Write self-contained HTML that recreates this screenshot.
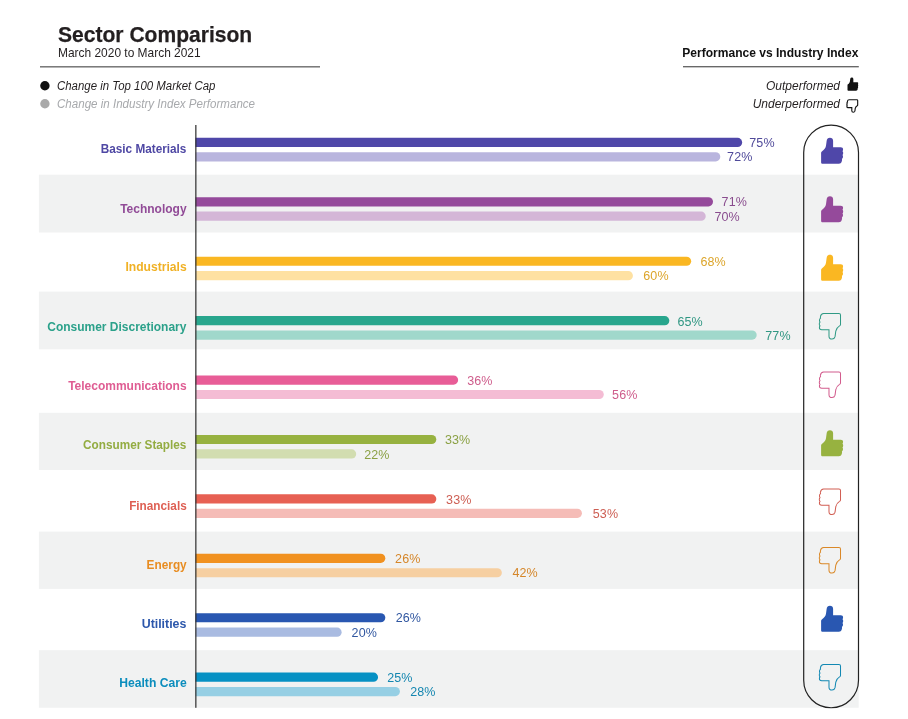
<!DOCTYPE html>
<html lang="en"><head><meta charset="utf-8"><title>Sector Comparison</title>
<style>
html,body{margin:0;padding:0;background:#fff;}
body{width:908px;height:719px;position:relative;overflow:hidden;font-family:"Liberation Sans",Arial,sans-serif;color:#231f20;}
.abs{position:absolute;white-space:nowrap;line-height:1;}
.lbl{position:absolute;right:721.4px;font-weight:bold;font-size:12px;white-space:nowrap;line-height:1;transform-origin:right center;}
.val{position:absolute;font-size:12.5px;letter-spacing:0.1px;white-space:nowrap;line-height:1;}
svg{position:absolute;left:0;top:0;overflow:visible;}
</style></head><body>

<svg width="908" height="719" viewBox="0 0 908 719">
<rect x="38.9" y="174.70" width="819.8" height="57.80" fill="#f1f2f2"/>
<rect x="38.9" y="291.60" width="819.8" height="57.70" fill="#f1f2f2"/>
<rect x="38.9" y="412.80" width="819.8" height="57.20" fill="#f1f2f2"/>
<rect x="38.9" y="531.60" width="819.8" height="57.30" fill="#f1f2f2"/>
<rect x="38.9" y="650.20" width="819.8" height="57.55" fill="#f1f2f2"/>
<rect x="40" y="66.3" width="280" height="1.1" fill="#444"/>
<rect x="683" y="66.2" width="175.8" height="1.1" fill="#444"/>
<circle cx="44.9" cy="85.75" r="4.7" fill="#111"/>
<circle cx="44.9" cy="103.75" r="4.7" fill="#a9a9a9"/>
<g transform="translate(847.5 77.4) scale(0.487 0.508)"><path d="M8.8 0C10.8 0 12 1.2 12 3L12 9.6L19.6 9.6C21.2 9.6 22 10.4 22 11.6C22 12.5 21.7 13.1 21.4 13.5C21.9 14 22.1 14.7 22.1 15.4C22.1 16.3 21.8 17 21.4 17.4C21.8 17.9 21.9 18.6 21.9 19.2C21.9 20.2 21.4 21 20.8 21.4C21 21.9 21 22.4 20.9 22.9C20.6 24.9 19.6 26.2 17.6 26.2L1.6 26.2C0.6 26.2 0 25.6 0 24.6L0 15C0 14.3 0.4 13.9 1 13.5C3.2 12.2 4.4 10.6 4.9 8.2C5.3 6 5.4 3.8 5.8 2.2C6.2 0.8 7.3 0 8.8 0Z" fill="#111"/></g>
<g transform="translate(846.8 99.7) scale(0.49 0.48)"><path d="M8.8 0C10.8 0 12 1.2 12 3L12 9.6L19.6 9.6C21.2 9.6 22 10.4 22 11.6C22 12.5 21.7 13.1 21.4 13.5C21.9 14 22.1 14.7 22.1 15.4C22.1 16.3 21.8 17 21.4 17.4C21.8 17.9 21.9 18.6 21.9 19.2C21.9 20.2 21.4 21 20.8 21.4C21 21.9 21 22.4 20.9 22.9C20.6 24.9 19.6 26.2 17.6 26.2L1.6 26.2C0.6 26.2 0 25.6 0 24.6L0 15C0 14.3 0.4 13.9 1 13.5C3.2 12.2 4.4 10.6 4.9 8.2C5.3 6 5.4 3.8 5.8 2.2C6.2 0.8 7.3 0 8.8 0Z" fill="none" stroke="#111" stroke-width="2.3" transform="rotate(180 11.1 13.1)"/></g>
<path d="M195.50 137.80H737.55A4.60 4.60 0 0 1 737.55 147.00H195.50Z" fill="#4f47a9"/>
<path d="M195.50 152.20H715.70A4.60 4.60 0 0 1 715.70 161.40H195.50Z" fill="#b9b5de"/>
<g transform="translate(821.1 137.65)"><path d="M8.8 0C10.8 0 12 1.2 12 3L12 9.6L19.6 9.6C21.2 9.6 22 10.4 22 11.6C22 12.5 21.7 13.1 21.4 13.5C21.9 14 22.1 14.7 22.1 15.4C22.1 16.3 21.8 17 21.4 17.4C21.8 17.9 21.9 18.6 21.9 19.2C21.9 20.2 21.4 21 20.8 21.4C21 21.9 21 22.4 20.9 22.9C20.6 24.9 19.6 26.2 17.6 26.2L1.6 26.2C0.6 26.2 0 25.6 0 24.6L0 15C0 14.3 0.4 13.9 1 13.5C3.2 12.2 4.4 10.6 4.9 8.2C5.3 6 5.4 3.8 5.8 2.2C6.2 0.8 7.3 0 8.8 0Z" fill="#4f47a9"/></g>
<path d="M195.50 197.22H708.42A4.60 4.60 0 0 1 708.42 206.42H195.50Z" fill="#954a9b"/>
<path d="M195.50 211.62H701.14A4.60 4.60 0 0 1 701.14 220.82H195.50Z" fill="#d4b6d7"/>
<g transform="translate(821.1 196.15)"><path d="M8.8 0C10.8 0 12 1.2 12 3L12 9.6L19.6 9.6C21.2 9.6 22 10.4 22 11.6C22 12.5 21.7 13.1 21.4 13.5C21.9 14 22.1 14.7 22.1 15.4C22.1 16.3 21.8 17 21.4 17.4C21.8 17.9 21.9 18.6 21.9 19.2C21.9 20.2 21.4 21 20.8 21.4C21 21.9 21 22.4 20.9 22.9C20.6 24.9 19.6 26.2 17.6 26.2L1.6 26.2C0.6 26.2 0 25.6 0 24.6L0 15C0 14.3 0.4 13.9 1 13.5C3.2 12.2 4.4 10.6 4.9 8.2C5.3 6 5.4 3.8 5.8 2.2C6.2 0.8 7.3 0 8.8 0Z" fill="#954a9b"/></g>
<path d="M195.50 256.64H686.58A4.60 4.60 0 0 1 686.58 265.84H195.50Z" fill="#fab722"/>
<path d="M195.50 271.04H628.32A4.60 4.60 0 0 1 628.32 280.24H195.50Z" fill="#fee1a2"/>
<g transform="translate(821.1 254.65)"><path d="M8.8 0C10.8 0 12 1.2 12 3L12 9.6L19.6 9.6C21.2 9.6 22 10.4 22 11.6C22 12.5 21.7 13.1 21.4 13.5C21.9 14 22.1 14.7 22.1 15.4C22.1 16.3 21.8 17 21.4 17.4C21.8 17.9 21.9 18.6 21.9 19.2C21.9 20.2 21.4 21 20.8 21.4C21 21.9 21 22.4 20.9 22.9C20.6 24.9 19.6 26.2 17.6 26.2L1.6 26.2C0.6 26.2 0 25.6 0 24.6L0 15C0 14.3 0.4 13.9 1 13.5C3.2 12.2 4.4 10.6 4.9 8.2C5.3 6 5.4 3.8 5.8 2.2C6.2 0.8 7.3 0 8.8 0Z" fill="#fab722"/></g>
<path d="M195.50 316.06H664.73A4.60 4.60 0 0 1 664.73 325.26H195.50Z" fill="#28a68d"/>
<path d="M195.50 330.46H752.11A4.60 4.60 0 0 1 752.11 339.66H195.50Z" fill="#a0d8cb"/>
<g transform="translate(819.2 313.40) scale(0.96 0.98)"><path d="M8.8 0C10.8 0 12 1.2 12 3L12 9.6L19.6 9.6C21.2 9.6 22 10.4 22 11.6C22 12.5 21.7 13.1 21.4 13.5C21.9 14 22.1 14.7 22.1 15.4C22.1 16.3 21.8 17 21.4 17.4C21.8 17.9 21.9 18.6 21.9 19.2C21.9 20.2 21.4 21 20.8 21.4C21 21.9 21 22.4 20.9 22.9C20.6 24.9 19.6 26.2 17.6 26.2L1.6 26.2C0.6 26.2 0 25.6 0 24.6L0 15C0 14.3 0.4 13.9 1 13.5C3.2 12.2 4.4 10.6 4.9 8.2C5.3 6 5.4 3.8 5.8 2.2C6.2 0.8 7.3 0 8.8 0Z" fill="none" stroke="#2f9a85" stroke-width="1.05" transform="rotate(180 11.1 13.1)"/></g>
<path d="M195.50 375.48H453.55A4.60 4.60 0 0 1 453.55 384.68H195.50Z" fill="#e85d97"/>
<path d="M195.50 389.88H599.19A4.60 4.60 0 0 1 599.19 399.08H195.50Z" fill="#f4bcd4"/>
<g transform="translate(819.2 371.90) scale(0.96 0.98)"><path d="M8.8 0C10.8 0 12 1.2 12 3L12 9.6L19.6 9.6C21.2 9.6 22 10.4 22 11.6C22 12.5 21.7 13.1 21.4 13.5C21.9 14 22.1 14.7 22.1 15.4C22.1 16.3 21.8 17 21.4 17.4C21.8 17.9 21.9 18.6 21.9 19.2C21.9 20.2 21.4 21 20.8 21.4C21 21.9 21 22.4 20.9 22.9C20.6 24.9 19.6 26.2 17.6 26.2L1.6 26.2C0.6 26.2 0 25.6 0 24.6L0 15C0 14.3 0.4 13.9 1 13.5C3.2 12.2 4.4 10.6 4.9 8.2C5.3 6 5.4 3.8 5.8 2.2C6.2 0.8 7.3 0 8.8 0Z" fill="none" stroke="#d25c8d" stroke-width="1.05" transform="rotate(180 11.1 13.1)"/></g>
<path d="M195.50 434.90H431.71A4.60 4.60 0 0 1 431.71 444.10H195.50Z" fill="#97b240"/>
<path d="M195.50 449.30H351.60A4.60 4.60 0 0 1 351.60 458.50H195.50Z" fill="#d2ddb0"/>
<g transform="translate(821.1 430.15)"><path d="M8.8 0C10.8 0 12 1.2 12 3L12 9.6L19.6 9.6C21.2 9.6 22 10.4 22 11.6C22 12.5 21.7 13.1 21.4 13.5C21.9 14 22.1 14.7 22.1 15.4C22.1 16.3 21.8 17 21.4 17.4C21.8 17.9 21.9 18.6 21.9 19.2C21.9 20.2 21.4 21 20.8 21.4C21 21.9 21 22.4 20.9 22.9C20.6 24.9 19.6 26.2 17.6 26.2L1.6 26.2C0.6 26.2 0 25.6 0 24.6L0 15C0 14.3 0.4 13.9 1 13.5C3.2 12.2 4.4 10.6 4.9 8.2C5.3 6 5.4 3.8 5.8 2.2C6.2 0.8 7.3 0 8.8 0Z" fill="#97b240"/></g>
<path d="M195.50 494.32H431.71A4.60 4.60 0 0 1 431.71 503.52H195.50Z" fill="#e76053"/>
<path d="M195.50 508.72H577.35A4.60 4.60 0 0 1 577.35 517.92H195.50Z" fill="#f5bcb7"/>
<g transform="translate(819.2 488.90) scale(0.96 0.98)"><path d="M8.8 0C10.8 0 12 1.2 12 3L12 9.6L19.6 9.6C21.2 9.6 22 10.4 22 11.6C22 12.5 21.7 13.1 21.4 13.5C21.9 14 22.1 14.7 22.1 15.4C22.1 16.3 21.8 17 21.4 17.4C21.8 17.9 21.9 18.6 21.9 19.2C21.9 20.2 21.4 21 20.8 21.4C21 21.9 21 22.4 20.9 22.9C20.6 24.9 19.6 26.2 17.6 26.2L1.6 26.2C0.6 26.2 0 25.6 0 24.6L0 15C0 14.3 0.4 13.9 1 13.5C3.2 12.2 4.4 10.6 4.9 8.2C5.3 6 5.4 3.8 5.8 2.2C6.2 0.8 7.3 0 8.8 0Z" fill="none" stroke="#d15e53" stroke-width="1.05" transform="rotate(180 11.1 13.1)"/></g>
<path d="M195.50 553.74H380.73A4.60 4.60 0 0 1 380.73 562.94H195.50Z" fill="#f1911f"/>
<path d="M195.50 568.14H497.24A4.60 4.60 0 0 1 497.24 577.34H195.50Z" fill="#f6cfa1"/>
<g transform="translate(819.2 547.40) scale(0.96 0.98)"><path d="M8.8 0C10.8 0 12 1.2 12 3L12 9.6L19.6 9.6C21.2 9.6 22 10.4 22 11.6C22 12.5 21.7 13.1 21.4 13.5C21.9 14 22.1 14.7 22.1 15.4C22.1 16.3 21.8 17 21.4 17.4C21.8 17.9 21.9 18.6 21.9 19.2C21.9 20.2 21.4 21 20.8 21.4C21 21.9 21 22.4 20.9 22.9C20.6 24.9 19.6 26.2 17.6 26.2L1.6 26.2C0.6 26.2 0 25.6 0 24.6L0 15C0 14.3 0.4 13.9 1 13.5C3.2 12.2 4.4 10.6 4.9 8.2C5.3 6 5.4 3.8 5.8 2.2C6.2 0.8 7.3 0 8.8 0Z" fill="none" stroke="#da8827" stroke-width="1.05" transform="rotate(180 11.1 13.1)"/></g>
<path d="M195.50 613.16H380.73A4.60 4.60 0 0 1 380.73 622.36H195.50Z" fill="#2957b1"/>
<path d="M195.50 627.56H337.04A4.60 4.60 0 0 1 337.04 636.76H195.50Z" fill="#a9bbe1"/>
<g transform="translate(821.1 605.65)"><path d="M8.8 0C10.8 0 12 1.2 12 3L12 9.6L19.6 9.6C21.2 9.6 22 10.4 22 11.6C22 12.5 21.7 13.1 21.4 13.5C21.9 14 22.1 14.7 22.1 15.4C22.1 16.3 21.8 17 21.4 17.4C21.8 17.9 21.9 18.6 21.9 19.2C21.9 20.2 21.4 21 20.8 21.4C21 21.9 21 22.4 20.9 22.9C20.6 24.9 19.6 26.2 17.6 26.2L1.6 26.2C0.6 26.2 0 25.6 0 24.6L0 15C0 14.3 0.4 13.9 1 13.5C3.2 12.2 4.4 10.6 4.9 8.2C5.3 6 5.4 3.8 5.8 2.2C6.2 0.8 7.3 0 8.8 0Z" fill="#2957b1"/></g>
<path d="M195.50 672.58H373.45A4.60 4.60 0 0 1 373.45 681.78H195.50Z" fill="#0691c4"/>
<path d="M195.50 686.98H395.30A4.60 4.60 0 0 1 395.30 696.18H195.50Z" fill="#96cfe4"/>
<g transform="translate(819.2 664.40) scale(0.96 0.98)"><path d="M8.8 0C10.8 0 12 1.2 12 3L12 9.6L19.6 9.6C21.2 9.6 22 10.4 22 11.6C22 12.5 21.7 13.1 21.4 13.5C21.9 14 22.1 14.7 22.1 15.4C22.1 16.3 21.8 17 21.4 17.4C21.8 17.9 21.9 18.6 21.9 19.2C21.9 20.2 21.4 21 20.8 21.4C21 21.9 21 22.4 20.9 22.9C20.6 24.9 19.6 26.2 17.6 26.2L1.6 26.2C0.6 26.2 0 25.6 0 24.6L0 15C0 14.3 0.4 13.9 1 13.5C3.2 12.2 4.4 10.6 4.9 8.2C5.3 6 5.4 3.8 5.8 2.2C6.2 0.8 7.3 0 8.8 0Z" fill="none" stroke="#1288b3" stroke-width="1.05" transform="rotate(180 11.1 13.1)"/></g>
<rect x="195.25" y="125" width="1.2" height="582.8" fill="#2e2e2e"/>
<rect x="803.7" y="125.05" width="54.8" height="582.7" rx="27.4" ry="27.4" fill="none" stroke="#222" stroke-width="1.2"/>
</svg>
<div class="abs" style="left:57.8px;top:23.5px;font-size:22.6px;font-weight:bold;-webkit-text-stroke:0.25px #231f20;transform:scaleX(0.932);transform-origin:left center;">Sector Comparison</div>
<div class="abs" style="left:58px;top:46.3px;font-size:13.2px;transform:scaleX(0.905);transform-origin:left center;">March 2020 to March 2021</div>
<div class="abs" style="left:57px;top:79.5px;font-size:12px;font-style:italic;transform:scaleX(0.952);transform-origin:left center;">Change in Top 100 Market Cap</div>
<div class="abs" style="left:57px;top:97.9px;font-size:12px;font-style:italic;color:#a7a9ac;transform:scaleX(0.964);transform-origin:left center;">Change in Industry Index Performance</div>
<div class="abs" style="right:49.7px;top:46.8px;font-size:12.75px;font-weight:bold;color:#111;transform:scaleX(0.945);transform-origin:right center;">Performance vs Industry Index</div>
<div class="abs" style="right:68px;top:80px;font-size:12px;font-style:italic;">Outperformed</div>
<div class="abs" style="right:68px;top:98px;font-size:12px;font-style:italic;">Underperformed</div>
<div class="lbl" style="top:142.80px;color:#4f48a4;transform:scaleX(0.98)">Basic Materials</div>
<div class="val" style="top:136.50px;left:749.3px;color:#504a9a">75%</div>
<div class="val" style="top:151.40px;left:727.1px;color:#504a9a">72%</div>
<div class="lbl" style="top:202.62px;color:#914b97;transform:scaleX(1.0)">Technology</div>
<div class="val" style="top:196.42px;left:721.6px;color:#894c8e">71%</div>
<div class="val" style="top:211.02px;left:714.4px;color:#894c8e">70%</div>
<div class="lbl" style="top:260.84px;color:#f0b125;transform:scaleX(1.01)">Industrials</div>
<div class="val" style="top:255.74px;left:700.4px;color:#dca52b">68%</div>
<div class="val" style="top:270.44px;left:643.3px;color:#dca52b">60%</div>
<div class="lbl" style="top:321.46px;color:#2ba18a;transform:scaleX(0.998)">Consumer Discretionary</div>
<div class="val" style="top:315.56px;left:677.5px;color:#309783">65%</div>
<div class="val" style="top:329.86px;left:765.3px;color:#309783">77%</div>
<div class="lbl" style="top:380.08px;color:#df5d93;transform:scaleX(1.0)">Telecommunications</div>
<div class="val" style="top:374.58px;left:467.2px;color:#ce5c8b">36%</div>
<div class="val" style="top:389.28px;left:612.1px;color:#ce5c8b">56%</div>
<div class="lbl" style="top:438.90px;color:#93ac41;transform:scaleX(0.98)">Consumer Staples</div>
<div class="val" style="top:434.00px;left:444.9px;color:#8ba144">33%</div>
<div class="val" style="top:448.70px;left:364.2px;color:#8ba144">22%</div>
<div class="lbl" style="top:499.72px;color:#de5f53;transform:scaleX(0.98)">Financials</div>
<div class="val" style="top:493.92px;left:446.1px;color:#cd5e53">33%</div>
<div class="val" style="top:508.12px;left:592.8px;color:#cd5e53">53%</div>
<div class="lbl" style="top:558.74px;color:#e88d22;transform:scaleX(0.985)">Energy</div>
<div class="val" style="top:552.84px;left:395.1px;color:#d58629">26%</div>
<div class="val" style="top:567.24px;left:512.4px;color:#d58629">42%</div>
<div class="lbl" style="top:618.16px;color:#2c57ab;transform:scaleX(1.03)">Utilities</div>
<div class="val" style="top:612.26px;left:395.7px;color:#3157a0">26%</div>
<div class="val" style="top:626.86px;left:351.6px;color:#3157a0">20%</div>
<div class="lbl" style="top:677.38px;color:#0b8dbd;transform:scaleX(1.012)">Health Care</div>
<div class="val" style="top:671.68px;left:387.2px;color:#1486b0">25%</div>
<div class="val" style="top:686.38px;left:410.2px;color:#1486b0">28%</div>
</body></html>
